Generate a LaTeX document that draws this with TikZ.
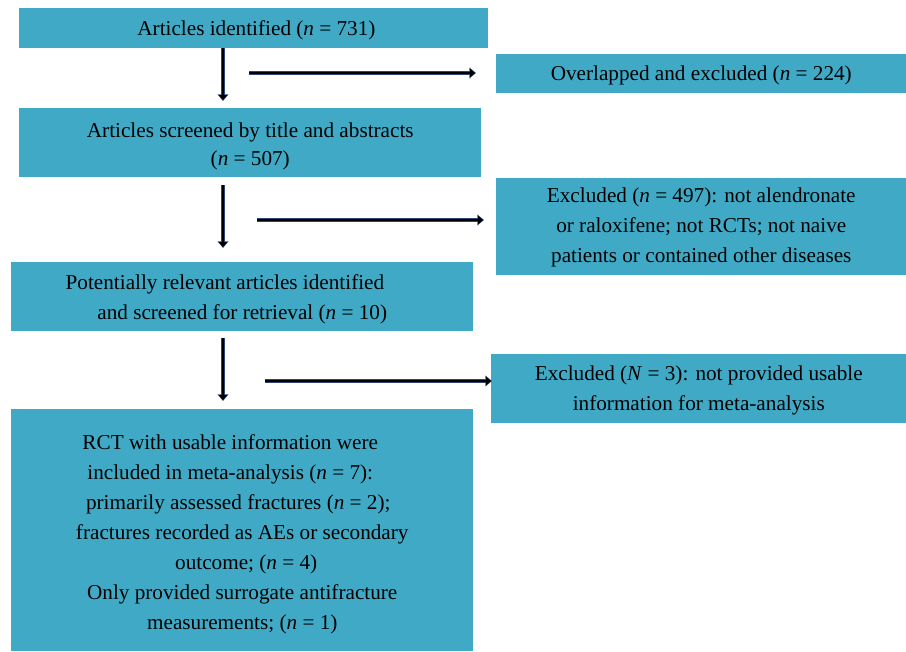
\documentclass[tikz,border=0pt]{standalone}
\usepackage{fontspec}
\setmainfont{Liberation Serif}
\usetikzlibrary{arrows.meta}
\definecolor{boxblue}{RGB}{64,170,198}
\definecolor{arrowedge}{RGB}{45,70,120}
\newcommand\padr[1]{\kern#1\relax}
\tikzset{
  box/.style={fill=boxblue, draw=none, anchor=north west, inner sep=0pt},
  txt/.style={inner sep=0pt, align=center, font=\fontsize{15.9}{22.5}\selectfont, text=black},
  flowouter/.style={draw=arrowedge, line width=3pt,
    -{Triangle[length=5pt,width=8pt]}},
  flowinner/.style={draw=black, line width=1.7pt, shorten >=0.8pt,
    -{Triangle[length=3.6pt,width=6pt]}},
}
\begin{document}
\begin{tikzpicture}[x=0.75pt,y=-0.75pt]
\useasboundingbox (0,0) rectangle (906,652);
% boxes
\node[box, minimum width=351.75pt, minimum height=30pt] (b1) at (19,8) {};
\node[box, minimum width=307.5pt, minimum height=29.25pt] (b2) at (496,54) {};
\node[box, minimum width=346.5pt, minimum height=51.75pt] (b3) at (19,108) {};
\node[box, minimum width=307.5pt, minimum height=72.75pt] (b4) at (496,178) {};
\node[box, minimum width=346.5pt, minimum height=51.75pt] (b5) at (11,262) {};
\node[box, minimum width=311.25pt, minimum height=51.75pt] (b6) at (491,354) {};
\node[box, minimum width=346.5pt, minimum height=181.5pt] (b7) at (11,409) {};
% texts
\node[txt, xshift=2pt, yshift=-1.6pt] (t1) at (b1.center)
  {Articles identified (\textit{n} = 731)};
\node[txt, yshift=-1.5pt] (t2) at (b2.center)
  {Overlapped and excluded (\textit{n} = 224)};
\node[txt, yshift=-3pt, font=\fontsize{15.9}{21}\selectfont] (t3) at (b3.center)
  {Articles screened by title and abstracts\\(\textit{n} = 507)};
\node[txt, yshift=-0.8pt] (t4) at (b4.center)
  {Excluded (\textit{n} = 497): not alendronate\\or raloxifene; not RCTs; not naive\\patients or contained other diseases};
\node[txt, yshift=-1.8pt] (t5) at (b5.center)
  {Potentially relevant articles identified\padr{26pt}\\and screened for retrieval (\textit{n} = 10)};
\node[txt, yshift=-1.2pt] (t6) at (b6.center)
  {Excluded (\textit{N} = 3): not provided usable\\information for meta-analysis};
\node[txt, yshift=-3pt] (t7) at (b7.center)
  {RCT with usable information were\padr{18pt}\\included in meta-analysis (\textit{n} = 7):\padr{18pt}\\primarily assessed fractures (\textit{n} = 2);\padr{6pt}\\fractures recorded as AEs or secondary\\outcome; (\textit{n} = 4)\padr{-6pt}\\Only provided surrogate antifracture\\measurements; (\textit{n} = 1)};
% arrow end points
\coordinate (v1s) at (223,48);  \coordinate (v1e) at (223,101);
\coordinate (h1s) at (249,73);  \coordinate (h1e) at (476,73);
\coordinate (v2s) at (223,185); \coordinate (v2e) at (223,248);
\coordinate (h2s) at (257,220); \coordinate (h2e) at (484,220);
\coordinate (v3s) at (223,338); \coordinate (v3e) at (223,401);
\coordinate (h3s) at (265,381); \coordinate (h3e) at (492,381);
\foreach \s/\e in {v1s/v1e,h1s/h1e,v2s/v2e,h2s/h2e,v3s/v3e,h3s/h3e}{
  \draw[flowouter] (\s) -- (\e);
  \draw[flowinner] (\s) -- (\e);
}
\end{tikzpicture}
\end{document}
